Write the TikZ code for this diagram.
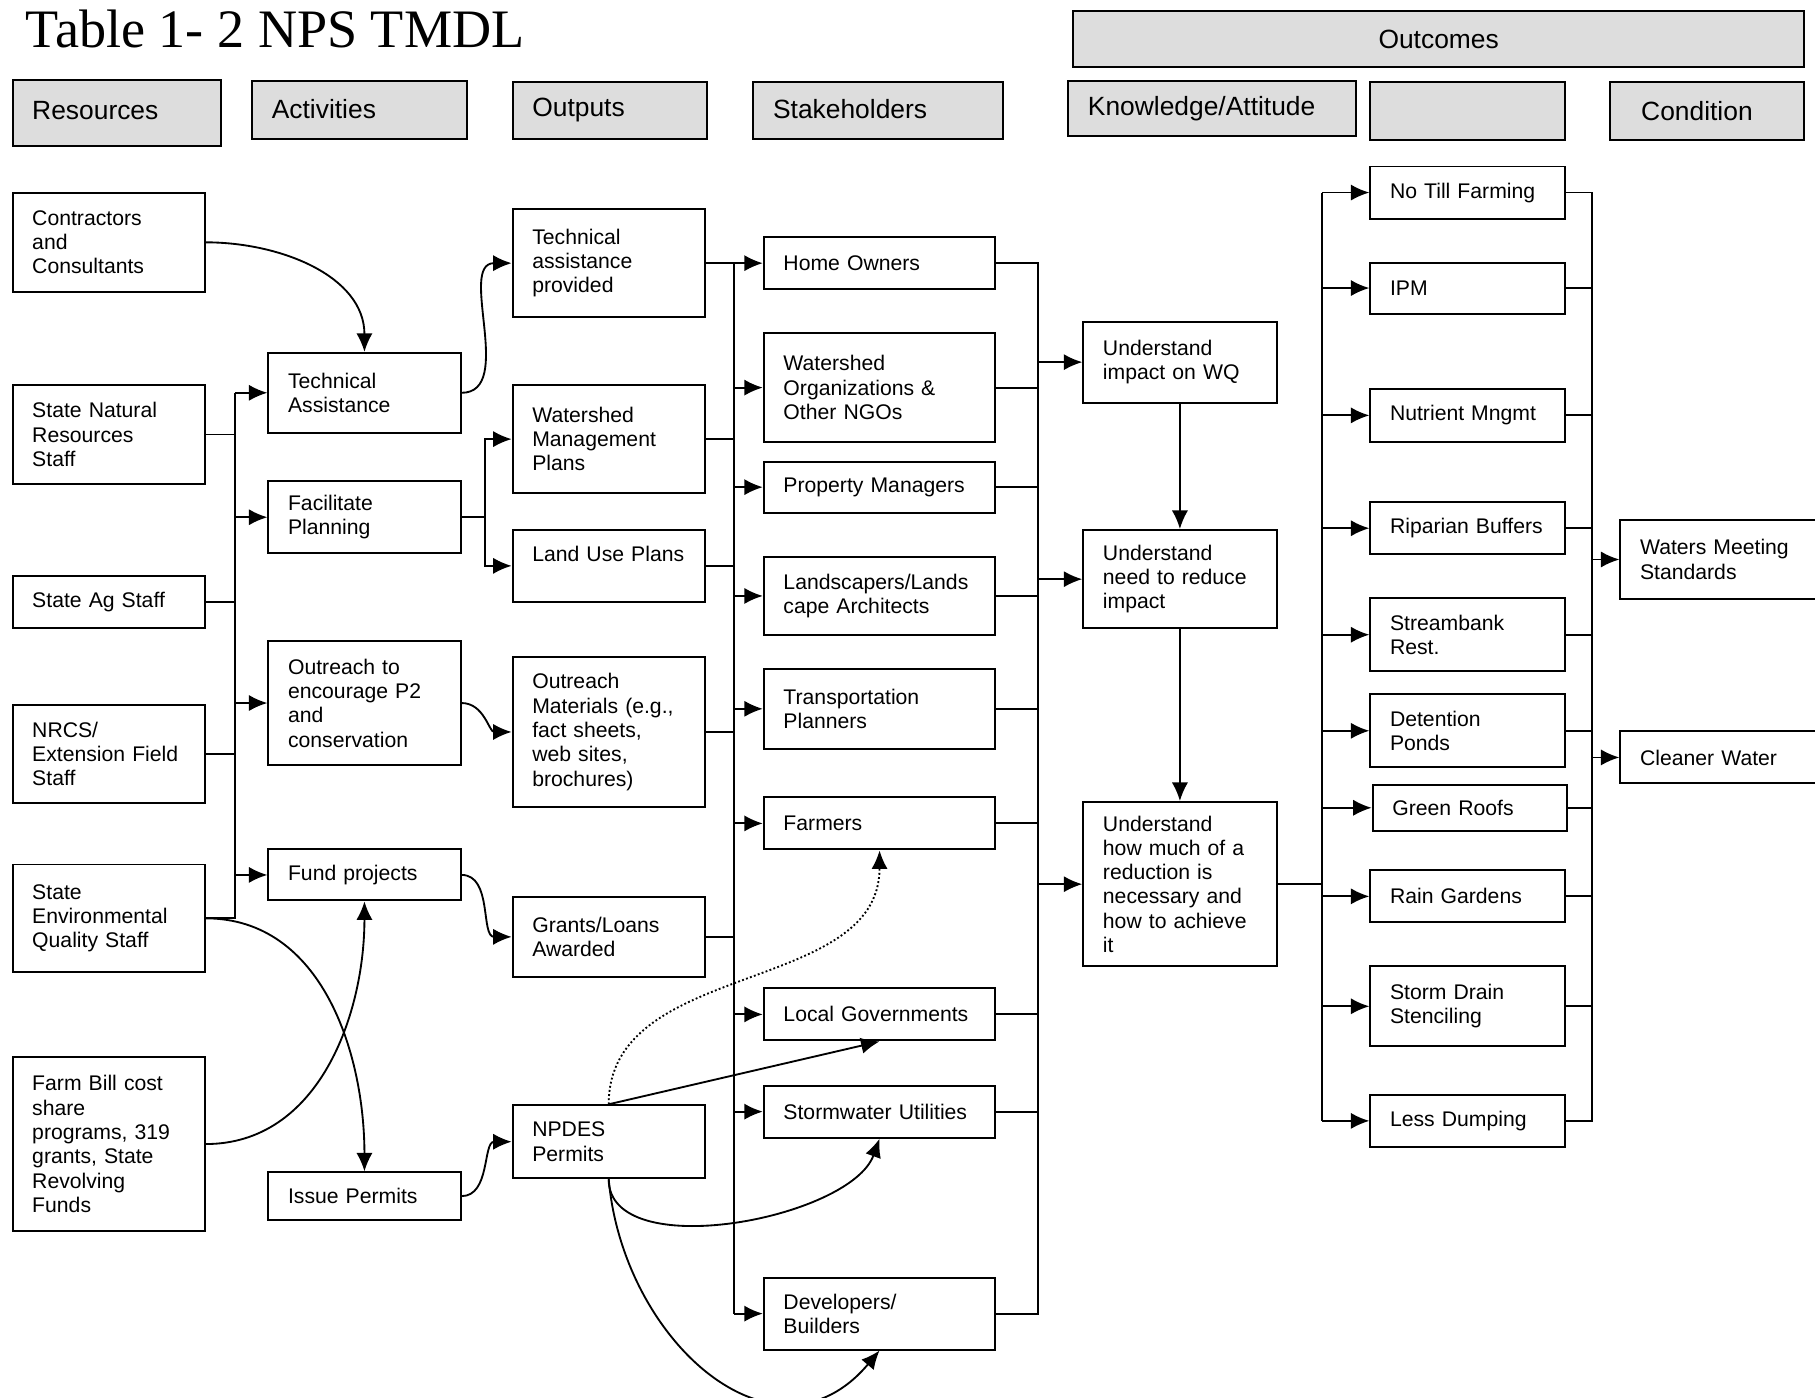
\documentclass[tikz,border=0pt]{standalone}
\usepackage{fontspec}
\setmainfont{Liberation Sans}
\newfontfamily\titlefont{Liberation Serif}
\usetikzlibrary{arrows.meta}
\hyphenpenalty=10000
\exhyphenpenalty=10000

\definecolor{headgray}{HTML}{DDDDDD}

\tikzstyle{block} = [rectangle, draw, line width=1.7pt, fill=white, anchor=north west, align=left, inner xsep=17pt, inner ysep=2pt, font=\fontsize{18.3}{21}\selectfont]
\tikzstyle{header} = [block, fill=headgray, font=\fontsize{22.8}{26}\selectfont]
\tikzstyle{arrow} = [draw, line width=1.6pt, -{Latex[length=16pt,width=14pt]}]
\tikzstyle{line} = [draw, line width=1.6pt]

\begin{document}
\begin{tikzpicture}[x=1pt, y=-1pt,
    wh/.code 2 args={\pgfmathsetmacro\boxw{#1-34}\tikzset{text width=\boxw pt, minimum height=#2pt}}]
    \useasboundingbox (0,0) rectangle (1568,1207);

    \node[anchor=base west, inner sep=0pt, font=\titlefont\fontsize{46.8}{50}\selectfont] (title) at (22,41) {Table 1- 2 NPS TMDL};

    % headers
    \node[header, wh={180}{57}] (hres) at (10,68) {\raisebox{4pt}{Resources}};
    \node[header, wh={186}{50}] (hact) at (217,69) {\raisebox{2pt}{Activities}};
    \node[header, wh={168}{49}] (hout) at (442,70) {\raisebox{2pt}{Outputs}};
    \node[header, wh={216}{49}] (hstk) at (650,70) {\raisebox{2pt}{Stakeholders}};
    \node[header, wh={632}{48}, align=center] (hoc) at (926,9) {\raisebox{-3pt}{Outcomes}};
    \node[header, wh={249}{48}] (hknow) at (922,69) {Knowledge/Attitude};
    \node[header, wh={168}{50}] (hbeh) at (1183,70) {};
    \node[header, wh={168}{50}] (hcond) at (1390,70) {\hspace*{10pt}Condition};

    % resources
    \node[block, wh={166}{85}] (contr) at (10,166) {Contractors\\and\\Consultants};
    \node[block, wh={166}{85}] (snr) at (10,332) {State Natural\\Resources\\Staff};
    \node[block, wh={166}{45}] (sag) at (10,497) {State Ag Staff};
    \node[block, wh={166}{85}] (nrcs) at (10,608) {NRCS/\\Extension Field\\Staff};
    \node[block, wh={166}{93}] (seq) at (10,746) {State\\Environmental\\Quality Staff};
    \node[block, wh={166}{151}] (farmbill) at (10,912) {Farm Bill cost\\share\\programs, 319\\grants, State\\Revolving\\Funds};

    % activities
    \node[block, wh={166}{69}] (techa) at (231,304) {Technical\\Assistance};
    \node[block, wh={166}{62}] (facil) at (231,415) {Facilitate\\Planning};
    \node[block, wh={166}{107}] (outr) at (231,553) {Outreach to\\encourage P2\\and\\conservation};
    \node[block, wh={166}{44}] (fund) at (231,733) {Fund projects};
    \node[block, wh={166}{41}] (issue) at (231,1012) {Issue Permits};

    % outputs
    \node[block, wh={166}{93}] (tap) at (442,180) {Technical\\assistance\\provided};
    \node[block, wh={166}{93}] (wmp) at (442,332) {Watershed\\Management\\Plans};
    \node[block, wh={166}{62}] (lup) at (442,457) {Land Use Plans\\~};
    \node[block, wh={166}{129}] (omat) at (442,567) {Outreach\\Materials (e.g.,\\fact sheets,\\web sites,\\brochures)};
    \node[block, wh={166}{69}] (grants) at (442,774) {Grants/Loans\\Awarded};
    \node[block, wh={166}{63}] (npdes) at (442,954) {NPDES\\Permits};

    % stakeholders
    \node[block, wh={200}{45}] (home) at (659,204) {Home Owners};
    \node[block, wh={200}{94}] (worg) at (659,287) {Watershed\\Organizations \&\\Other NGOs};
    \node[block, wh={200}{44}] (prop) at (659,398) {Property Managers};
    \node[block, wh={200}{68}] (land) at (659,480) {Landscapers/Lands\\cape Architects};
    \node[block, wh={200}{69}] (trans) at (659,577) {Transportation\\Planners};
    \node[block, wh={200}{45}] (farm) at (659,688) {Farmers};
    \node[block, wh={200}{45}] (locgov) at (659,853) {Local Governments};
    \node[block, wh={200}{45}] (storm) at (659,937) {Stormwater Utilities};
    \node[block, wh={200}{62}] (dev) at (659,1103) {Developers/\\Builders};

    % knowledge
    \node[block, wh={167}{70}] (wq) at (935,277) {Understand\\impact on WQ};
    \node[block, wh={167}{85}] (need) at (935,457) {Understand\\need to reduce\\impact};
    \node[block, wh={167}{142}] (howmuch) at (935,692) {Understand\\how much of a\\reduction is\\necessary and\\how to achieve\\it};

    % behaviours
    \node[block, wh={168}{45}] (notill) at (1183,143) {No Till Farming};
    \node[block, wh={168}{44}] (ipm) at (1183,226) {IPM};
    \node[block, wh={168}{46}] (nutr) at (1183,335) {Nutrient Mngmt};
    \node[block, wh={168}{45}] (ripar) at (1183,433) {Riparian Buffers};
    \node[block, wh={168}{63}] (strb) at (1183,516) {Streambank\\Rest.};
    \node[block, wh={168}{63}] (detp) at (1183,599) {Detention\\Ponds};
    \node[block, wh={168}{40}] (groof) at (1185,677) {Green Roofs};
    \node[block, wh={168}{45}] (raing) at (1183,751) {Rain Gardens};
    \node[block, wh={168}{69}] (sdrain) at (1183,834) {Storm Drain\\Stenciling};
    \node[block, wh={168}{45}] (dump) at (1183,945) {Less Dumping};

    % condition
    \node[block, wh={169}{69}] (wms) at (1399,448) {Waters Meeting\\Standards};
    \node[block, wh={169}{45}] (clean) at (1399,631) {Cleaner Water};

    % bus positions
    \coordinate (rbus) at (203,0);
    \coordinate (abus) at (419,0);
    \coordinate (obus) at (634,0);
    \coordinate (sbus) at (897,0);
    \coordinate (kbus) at (1142,0);
    \coordinate (cbus) at (1375,0);

    % resources -> activities
    \draw [line] (snr.east) -- (snr.east -| rbus);
    \draw [line] (sag.east) -- (sag.east -| rbus);
    \draw [line] (nrcs.east) -- (nrcs.east -| rbus);
    \draw [line] (seq.east) -| (techa.west -| rbus);
    \draw [arrow] (techa.west -| rbus) -- (techa.west);
    \draw [arrow] (facil.west -| rbus) -- (facil.west);
    \draw [arrow] (outr.west -| rbus) -- (outr.west);
    \draw [arrow] (fund.west -| rbus) -- (fund.west);
    \draw [arrow] (contr.east) to[out=0, in=90] (techa.north);
    \draw [arrow] (farmbill.east) to[out=0, in=-90] (fund.south);
    \draw [arrow] (seq.east) to[out=0, in=90] (issue.north);

    % activities -> outputs
    \draw [arrow] (techa.east) to[out=0, in=180] (tap.west);
    \draw [line] (facil.east) -- (facil.east -| abus);
    \draw [arrow] (facil.east -| abus) |- (wmp.west);
    \draw [arrow] (facil.east -| abus) |- (lup.west);
    \draw [arrow] (outr.east) to[out=0, in=180] (omat.west);
    \draw [arrow] (fund.east) to[out=0, in=180] (grants.west);
    \draw [arrow] (issue.east) to[out=0, in=180] (npdes.west);

    % outputs -> stakeholders
    \draw [arrow] (tap.east) -- (home.west);
    \draw [line] (wmp.east) -- (wmp.east -| obus);
    \draw [line] (lup.east) -- (lup.east -| obus);
    \draw [line] (omat.east) -- (omat.east -| obus);
    \draw [line] (grants.east) -- (grants.east -| obus);
    \draw [line] (home.west -| obus) -- (dev.west -| obus);
    \draw [arrow] (worg.west -| obus) -- (worg.west);
    \draw [arrow] (prop.west -| obus) -- (prop.west);
    \draw [arrow] (land.west -| obus) -- (land.west);
    \draw [arrow] (trans.west -| obus) -- (trans.west);
    \draw [arrow] (farm.west -| obus) -- (farm.west);
    \draw [arrow] (locgov.west -| obus) -- (locgov.west);
    \draw [arrow] (storm.west -| obus) -- (storm.west);
    \draw [arrow] (dev.west -| obus) -- (dev.west);

    % permits
    \draw [arrow, dotted] (npdes.north) to[out=90, in=-90] (farm.south);
    \draw [arrow] (npdes.north) -- (locgov.south);
    \draw [arrow] (npdes.south) to[out=-90, in=-110, looseness=0.8] (storm.south);
    \draw [arrow] (npdes.south) to[out=-85, in=-130, looseness=1.3] (dev.south);

    % stakeholders -> knowledge
    \draw [line] (home.east) -- (home.east -| sbus) -- (dev.east -| sbus) -- (dev.east);
    \draw [line] (worg.east) -- (worg.east -| sbus);
    \draw [line] (prop.east) -- (prop.east -| sbus);
    \draw [line] (land.east) -- (land.east -| sbus);
    \draw [line] (trans.east) -- (trans.east -| sbus);
    \draw [line] (farm.east) -- (farm.east -| sbus);
    \draw [line] (locgov.east) -- (locgov.east -| sbus);
    \draw [line] (storm.east) -- (storm.east -| sbus);
    \draw [arrow] (wq.west -| sbus) -- (wq.west);
    \draw [arrow] (need.west -| sbus) -- (need.west);
    \draw [arrow] (howmuch.west -| sbus) -- (howmuch.west);
    \draw [arrow] (wq.south) -- (need.north);
    \draw [arrow] (need.south) -- (howmuch.north);

    % knowledge -> behaviours
    \draw [line] (howmuch.east) -- (howmuch.east -| kbus);
    \draw [line] (notill.west -| kbus) -- (dump.west -| kbus);
    \draw [arrow] (notill.west -| kbus) -- (notill.west);
    \draw [arrow] (ipm.west -| kbus) -- (ipm.west);
    \draw [arrow] (nutr.west -| kbus) -- (nutr.west);
    \draw [arrow] (ripar.west -| kbus) -- (ripar.west);
    \draw [arrow] (strb.west -| kbus) -- (strb.west);
    \draw [arrow] (detp.west -| kbus) -- (detp.west);
    \draw [arrow] (groof.west -| kbus) -- (groof.west);
    \draw [arrow] (raing.west -| kbus) -- (raing.west);
    \draw [arrow] (sdrain.west -| kbus) -- (sdrain.west);
    \draw [arrow] (dump.west -| kbus) -- (dump.west);

    % behaviours -> condition
    \draw [line] (notill.east) -- (notill.east -| cbus) -- (dump.east -| cbus) -- (dump.east);
    \draw [line] (ipm.east) -- (ipm.east -| cbus);
    \draw [line] (nutr.east) -- (nutr.east -| cbus);
    \draw [line] (ripar.east) -- (ripar.east -| cbus);
    \draw [line] (strb.east) -- (strb.east -| cbus);
    \draw [line] (detp.east) -- (detp.east -| cbus);
    \draw [line] (groof.east) -- (groof.east -| cbus);
    \draw [line] (raing.east) -- (raing.east -| cbus);
    \draw [line] (sdrain.east) -- (sdrain.east -| cbus);
    \draw [arrow] (wms.west -| cbus) -- (wms.west);
    \draw [arrow] (clean.west -| cbus) -- (clean.west);
\end{tikzpicture}
\end{document}
